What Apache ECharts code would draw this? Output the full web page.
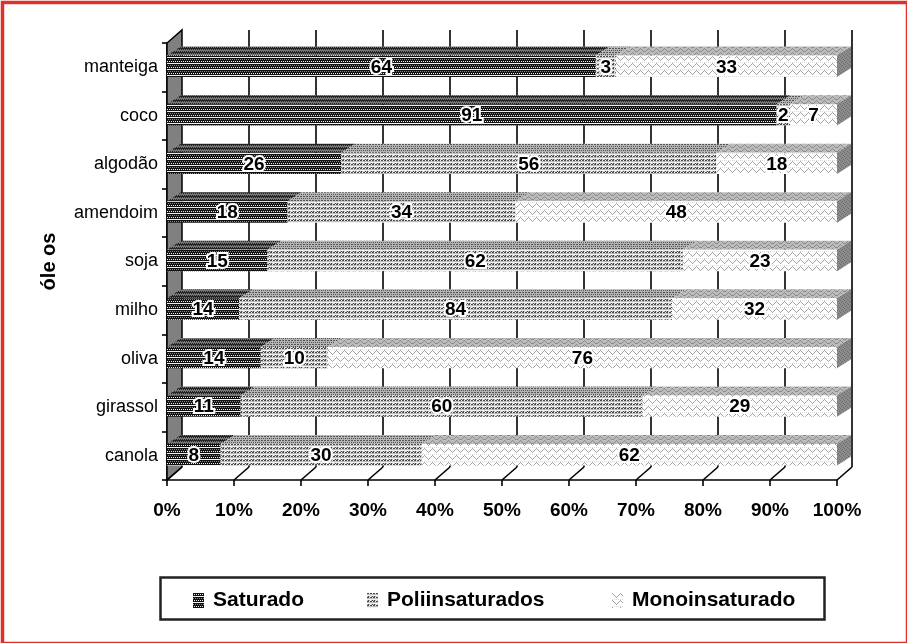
<!DOCTYPE html>
<html>
<head>
<meta charset="utf-8">
<script src="https://cdn.jsdelivr.net/npm/echarts@6/dist/echarts.min.js"></script>
<style>
  html, body { margin: 0; padding: 0; background: #fff; }
  #chart { width: 907px; height: 643px; }
</style>
</head>
<body>
<div id="chart"></div>
<script>
  const categories = ['canola', 'girassol', 'oliva', 'milho', 'soja', 'amendoim', 'algodão', 'coco', 'manteiga'];
  const seriesNames = ['Saturado', 'Poliinsaturados', 'Monoinsaturado'];
  const saturado = [8, 11, 14, 14, 15, 18, 26, 91, 64];
  const poli = [30, 60, 10, 84, 62, 34, 56, 2, 3];
  const mono = [62, 29, 76, 32, 23, 48, 18, 7, 33];
  const xTicks = [0, 10, 20, 30, 40, 50, 60, 70, 80, 90, 100];

  const FONT = '"Liberation Sans", Arial, sans-serif';

  // small pixel tiles used as fill patterns
  function tile(w, h, bg, rows, ink) {
    const c = document.createElement('canvas');
    c.width = w; c.height = h;
    const ctx = c.getContext('2d');
    ctx.fillStyle = bg;
    ctx.fillRect(0, 0, w, h);
    rows.forEach((row, y) => {
      for (let x = 0; x < row.length; x++) {
        const ch = row[x];
        if (ink[ch]) { ctx.fillStyle = ink[ch]; ctx.fillRect(x, y, 1, 1); }
      }
    });
    return { image: c, repeat: 'repeat' };
  }

  const pat = {
    satFront: tile(4, 6, '#fff', ['####', '#.#.', '####', '....', '####', '-#-#'], { '#': '#111', '-': '#888', '.': '#eee' }),
    satTop: tile(4, 4, '#666', ['####', '-#-#', '----', '#-#-'], { '#': '#222', '-': '#777' }),
    poliFront: tile(6, 4, '#fff', ['##.##.', '------', '......', '-#-.-#'], { '#': '#4a4a4a', '-': '#bdbdbd', '.': '#f0f0f0' }),
    poliTop: tile(6, 4, '#aaa', ['##.##.', '------', '-#-#-#', '------'], { '#': '#555', '-': '#b4b4b4', '.': '#bbb' }),
    monoFront: tile(8, 7, '#fff', ['#.......', '.#.....#', '..#...#.', '...#.#..', '....#...', '........', '-.-.-.-.'], { '#': '#a4a4a4', '-': '#dcdcdc' }),
    monoTop: tile(8, 4, '#bcbcbc', ['#.......', '.#.....#', '..#...#.', '...###..'], { '#': '#8a8a8a' }),
    side: tile(4, 4, '#8c8c8c', ['#...', '..#.', '.#..', '...#'], { '#': '#6e6e6e' })
  };
  const fronts = [pat.satFront, pat.poliFront, pat.monoFront];
  const tops = [pat.satTop, pat.poliTop, pat.monoTop];

  // stack to 100% per category, keep raw value for the label
  const raw = [saturado, poli, mono];
  function stackData(k) {
    return categories.map((c, i) => {
      const total = saturado[i] + poli[i] + mono[i];
      let start = 0;
      for (let j = 0; j < k; j++) start += raw[j][i];
      const s = start / total * 100;
      const e = (start + raw[k][i]) / total * 100;
      return [s, e, i, raw[k][i]];
    });
  }

  const WX = 15, WY = 13;   // back wall depth
  const BX = 14, BY = 9;    // bar depth

  function wallItem(params, api) {
    const cs = params.coordSys;
    const v = api.value(0);
    const x = api.coord([v, 0])[0];
    const bottom = cs.y + cs.height;
    const children = [];
    if (v === 0) {
      children.push({
        type: 'polygon',
        shape: { points: [[x, bottom], [x, cs.y], [x + WX, cs.y - WY], [x + WX, bottom - WY]] },
        style: { fill: '#808080', stroke: '#000', lineWidth: 1.5 }
      });
    } else {
      children.push({
        type: 'line',
        shape: { x1: x + WX, y1: cs.y - WY, x2: x + WX, y2: bottom - WY },
        style: { stroke: '#000', lineWidth: 1.6 }
      });
    }
    children.push({
      type: 'line',
      shape: { x1: x, y1: bottom, x2: x + WX, y2: bottom - WY },
      style: { stroke: '#000', lineWidth: 1.6 }
    });
    return { type: 'group', children };
  }

  function barRenderer(k) {
    return function (params, api) {
      const s = api.value(0), e = api.value(1), c = api.value(2), r = api.value(3);
      const p0 = api.coord([s, c]);
      const p1 = api.coord([e, c]);
      const band = api.size([0, 1])[1];
      const h = band * 0.44;
      const yT = p0[1] - h / 2 - 1;
      const yB = yT + h;
      const x0 = p0[0], x1 = p1[0];
      const children = [
        {
          type: 'polygon',
          shape: { points: [[x0, yT], [x1, yT], [x1 + BX, yT - BY], [x0 + BX, yT - BY]] },
          style: { fill: tops[k] }
        },
        {
          type: 'rect',
          shape: { x: x0, y: yT, width: x1 - x0, height: h },
          style: { fill: fronts[k] }
        }
      ];
      if (k === 2) {
        children.push({
          type: 'polygon',
          shape: { points: [[x1, yT], [x1 + BX, yT - BY], [x1 + BX, yB - BY], [x1, yB]] },
          style: { fill: pat.side }
        });
      }
      children.push({
        type: 'text',
        z2: 100,
        style: {
          text: String(r), x: (x0 + x1) / 2, y: (yT + yB) / 2 + 1,
          align: 'center', verticalAlign: 'middle',
          font: 'bold 19px ' + FONT,
          fill: '#000', stroke: '#fff', lineWidth: 4, strokeFirst: true
        }
      });
      return { type: 'group', children };
    };
  }

  // one legend per item so each can sit where the reference has it
  const legendLeft = [188, 362, 607];
  const legends = seriesNames.map((n, k) => ({
    left: legendLeft[k], top: 585, itemWidth: 11, itemHeight: 15,
    textStyle: { color: '#000', fontFamily: FONT, fontWeight: 'bold', fontSize: 21, padding: [0, 0, 0, 4] },
    data: [{ name: n, icon: 'rect', itemStyle: { color: fronts[k] } }]
  }));

  const chart = echarts.init(document.getElementById('chart'));
  chart.setOption({
    animation: false,
    backgroundColor: '#fff',
    grid: { left: 167, right: 70, top: 43, bottom: 163 },
    xAxis: {
      type: 'value', min: 0, max: 100, interval: 10,
      axisLine: { show: true, lineStyle: { color: '#000', width: 1.6 } },
      axisTick: { show: true, length: 6, lineStyle: { color: '#000', width: 1.6 } },
      splitLine: { show: false },
      axisLabel: { formatter: '{value}%', color: '#000', fontFamily: FONT, fontWeight: 'bold', fontSize: 19, margin: 21 }
    },
    yAxis: {
      type: 'category', data: categories,
      name: 'óle os', nameLocation: 'middle', nameGap: 108, nameRotate: 90,
      nameTextStyle: { color: '#000', fontFamily: FONT, fontWeight: 'bold', fontSize: 20 },
      axisLine: { show: true, lineStyle: { color: '#000', width: 1.6 } },
      axisTick: { show: true, length: 5, lineStyle: { color: '#000', width: 1.6 } },
      axisLabel: { color: '#000', fontFamily: FONT, fontSize: 18, margin: 9 }
    },
    legend: legends,
    graphic: [
      { type: 'rect', left: 158, top: 575, shape: { width: 664, height: 42 }, style: { fill: 'none', stroke: '#222', lineWidth: 2.5 }, z: -1 },
      { type: 'rect', left: 0, top: 0, shape: { width: 905, height: 641 }, style: { fill: 'none', stroke: '#e0302a', lineWidth: 3.5 }, z: 10 }
    ],
    series: [
      {
        type: 'custom', name: 'wall', silent: true,
        renderItem: wallItem,
        encode: { x: 0, y: 1 },
        data: xTicks.map(v => [v, 0])
      }
    ].concat(seriesNames.map((n, k) => ({
      type: 'custom', name: n,
      renderItem: barRenderer(k),
      encode: { x: [0, 1], y: 2 },
      itemStyle: { color: fronts[k] },
      data: stackData(k)
    })))
  });
  window.addEventListener('resize', () => chart.resize());
</script>
</body>
</html>
